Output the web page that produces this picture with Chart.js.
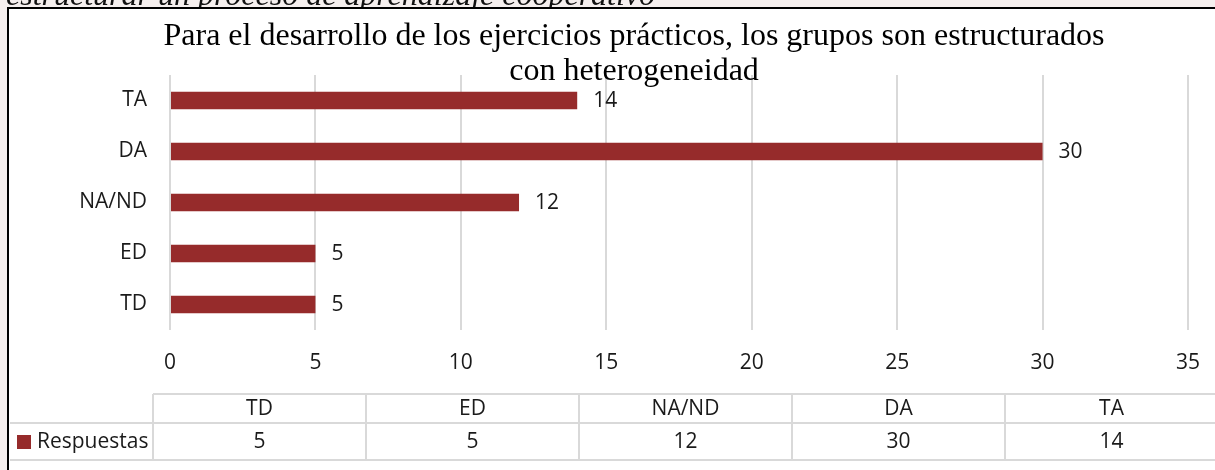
<!DOCTYPE html>
<html>
<head>
<meta charset="utf-8">
<script src="https://cdn.jsdelivr.net/npm/chart.js@4"></script>
<style>
  html, body { margin: 0; padding: 0; background: #f5efee; }
  #wrap { width: 1215px; height: 470px; position: relative; }
</style>
</head>
<body>
<div id="wrap"><canvas id="respuestasChart" width="1215" height="470"></canvas></div>
<script>
const categories = ["TD", "ED", "NA/ND", "DA", "TA"];
const respuestas = [5, 5, 12, 30, 14];
const xTicks = [0, 5, 10, 15, 20, 25, 30, 35];
const seriesName = "Respuestas";
const titleLines = [
  "Para el desarrollo de los ejercicios prácticos, los grupos son estructurados",
  "con heterogeneidad"
];
const captionText = "estructurar un proceso de aprendizaje cooperativo";

const barColor = "#962b2b";
const gridColor = "#d9d9d9";
const textColor = "#1a1a1a";
const sansFont = "'Open Sans', 'Noto Sans', sans-serif";
const serifFont = "'Liberation Serif', 'DejaVu Serif', serif";

// frame, caption above the box, and the title
const framePlugin = {
  id: "frame",
  beforeDraw(chart) {
    const c = chart.ctx;
    c.save();
    c.fillStyle = "#f5efee";
    c.fillRect(0, 0, chart.width, chart.height);
    c.font = "italic 32px " + serifFont;
    c.fillStyle = "#111";
    c.textBaseline = "alphabetic";
    c.fillText(captionText, 6, 5);
    c.fillStyle = "#fff";
    c.fillRect(8, 8, chart.width - 8, chart.height - 8);
    c.strokeStyle = "#000";
    c.lineWidth = 2;
    c.beginPath();
    c.moveTo(8, chart.height);
    c.lineTo(8, 8);
    c.lineTo(chart.width, 8);
    c.stroke();
    c.restore();
  },
  afterDraw(chart) {
    const c = chart.ctx;
    c.save();
    c.font = "32px " + serifFont;
    c.fillStyle = "#000";
    c.textAlign = "center";
    c.textBaseline = "middle";
    titleLines.forEach((t, i) => c.fillText(t, 634, 37 + i * 35));
    c.restore();
  }
};

// value labels at the end of each bar
const valueLabels = {
  id: "valueLabels",
  afterDatasetsDraw(chart) {
    const c = chart.ctx;
    const meta = chart.getDatasetMeta(0);
    c.save();
    c.font = "21px " + sansFont;
    c.fillStyle = textColor;
    c.textAlign = "left";
    c.textBaseline = "middle";
    meta.data.forEach((bar, i) => {
      c.fillText(String(respuestas[i]), bar.x + 16, bar.y + 1);
    });
    c.restore();
  }
};

// data table under the axis
const dataTable = {
  id: "dataTable",
  afterDraw(chart) {
    const c = chart.ctx;
    const left = 153, colW = 213, top = 394, mid = 423, bottom = 460;
    c.save();
    c.strokeStyle = gridColor;
    c.lineWidth = 2;
    c.beginPath();
    c.moveTo(left, top); c.lineTo(chart.width, top);
    c.moveTo(10, mid); c.lineTo(chart.width, mid);
    c.moveTo(10, bottom); c.lineTo(chart.width, bottom);
    for (let i = 0; i < categories.length; i++) {
      c.moveTo(left + i * colW, top);
      c.lineTo(left + i * colW, bottom);
    }
    c.stroke();

    c.font = "21px " + sansFont;
    c.fillStyle = textColor;
    c.textAlign = "center";
    c.textBaseline = "middle";
    categories.forEach((cat, i) => {
      const cx = left + i * colW + colW / 2;
      c.fillText(cat, cx, (top + mid) / 2 + 1);
      c.fillText(String(respuestas[i]), cx, (mid + bottom) / 2 + 1);
    });

    c.fillStyle = barColor;
    c.fillRect(17, 435, 14, 14);
    c.fillStyle = textColor;
    c.textAlign = "left";
    c.fillText(seriesName, 37, (mid + bottom) / 2 + 1);
    c.restore();
  }
};

new Chart(document.getElementById("respuestasChart").getContext("2d"), {
  type: "bar",
  data: {
    labels: categories,
    datasets: [{
      label: seriesName,
      data: respuestas,
      backgroundColor: barColor,
      borderWidth: 0,
      categoryPercentage: 1,
      barPercentage: 0.34
    }]
  },
  plugins: [framePlugin, valueLabels, dataTable],
  options: {
    indexAxis: "y",
    responsive: false,
    animation: false,
    layout: { padding: { top: 75, right: 27, bottom: 0, left: 0 } },
    plugins: {
      legend: { display: false },
      title: { display: false },
      tooltip: { enabled: false }
    },
    scales: {
      x: {
        min: 0,
        max: 35,
        afterBuildTicks: scale => { scale.ticks = xTicks.map(v => ({ value: v })); },
        afterFit: scale => {
          scale.height = 140;
          scale.paddingRight = 0;
          scale.paddingLeft = 0;
        },
        border: { display: false },
        grid: { color: gridColor, lineWidth: 2, drawTicks: false },
        ticks: { color: textColor, font: { family: sansFont, size: 21 }, padding: 20 }
      },
      y: {
        reverse: true,
        afterFit: scale => { scale.width = 170; },
        border: { display: false },
        grid: { display: false, drawTicks: false },
        ticks: { color: textColor, font: { family: sansFont, size: 21 }, padding: 23 }
      }
    }
  }
});
</script>
</body>
</html>
